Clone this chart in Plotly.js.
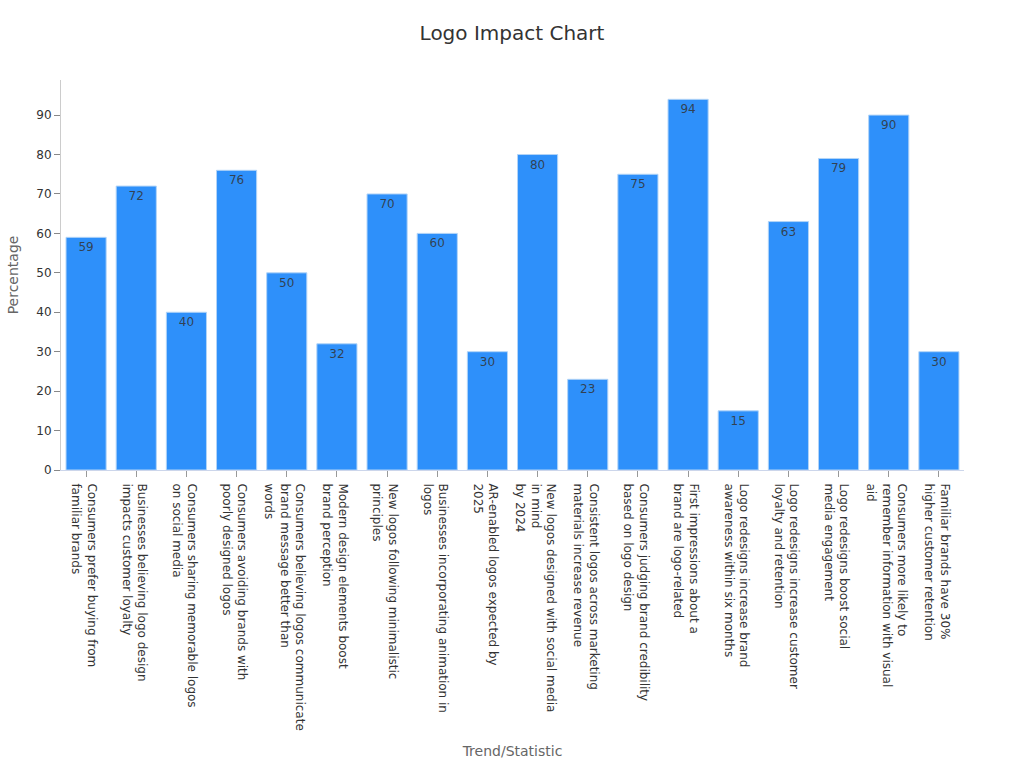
<!DOCTYPE html>
<html><head><meta charset="utf-8"><script src="https://cdn.plot.ly/plotly-3.0.1.min.js"></script>
<style>html,body{margin:0;padding:0;background:#fff}</style></head><body><div id="c" style="width:1024px;height:768px"></div>
<script>
const categories=["Consumers prefer buying from<br>familiar brands","Businesses believing logo design<br>impacts customer loyalty","Consumers sharing memorable logos<br>on social media","Consumers avoiding brands with<br>poorly designed logos","Consumers believing logos communicate<br>brand message better than<br>words","Modern design elements boost<br>brand perception","New logos following minimalistic<br>principles","Businesses incorporating animation in<br>logos","AR-enabled logos expected by<br>2025","New logos designed with social media<br>in mind<br>by 2024","Consistent logos across marketing<br>materials increase revenue","Consumers judging brand credibility<br>based on logo design","First impressions about a<br>brand are logo-related","Logo redesigns increase brand<br>awareness within six months","Logo redesigns increase customer<br>loyalty and retention","Logo redesigns boost social<br>media engagement","Consumers more likely to<br>remember information with visual<br>aid","Familiar brands have 30%<br>higher customer retention"];
const values=[59,72,40,76,50,32,70,60,30,80,23,75,94,15,63,79,90,30];
Plotly.newPlot('c',[{type:'bar',x:categories,y:values,text:values.map(String),textposition:'inside',insidetextanchor:'end',textangle:0,
 textfont:{family:'DejaVu Sans',size:12,color:'rgba(51,51,51,0.85)'},constraintext:'none',
 marker:{color:'#2e90fa',line:{color:'#b2d4f7',width:1}},hoverinfo:'none',cliponaxis:false}],
{width:1024,height:768,paper_bgcolor:'#fff',plot_bgcolor:'#fff',showlegend:false,bargap:0.2,
 font:{family:'DejaVu Sans',size:12,color:'#333'},
 margin:{l:61,r:60,t:80,b:298,autoexpand:false},
 title:{text:'Logo Impact Chart',x:0.5,xanchor:'center',y:0.957,yanchor:'middle',font:{family:'DejaVu Sans',size:20,color:'#333'}},
 xaxis:{type:'category',tickangle:90,automargin:false,showgrid:false,zeroline:false,showline:true,linecolor:'#ccd6eb',linewidth:1,ticks:'outside',ticklen:6,tickcolor:'#999',tickfont:{family:'DejaVu Sans',size:12,color:'#333'},ticklabelstandoff:4,ticklabelshift:-2,
  title:{text:'Trend/Statistic',font:{family:'DejaVu Sans',size:14,color:'#666'},standoff:16},range:[-0.5,17.5]},
 yaxis:{range:[0,98.9],tickvals:[0,10,20,30,40,50,60,70,80,90],showgrid:false,zeroline:false,showline:true,linecolor:'#ccc',linewidth:1,ticks:'outside',ticklen:6,tickcolor:'#888',tickfont:{family:'DejaVu Sans',size:12,color:'#333'},automargin:false,
  title:{text:'Percentage',font:{family:'DejaVu Sans',size:14,color:'#666'},standoff:14}}
},{displayModeBar:false});
</script></body></html>
